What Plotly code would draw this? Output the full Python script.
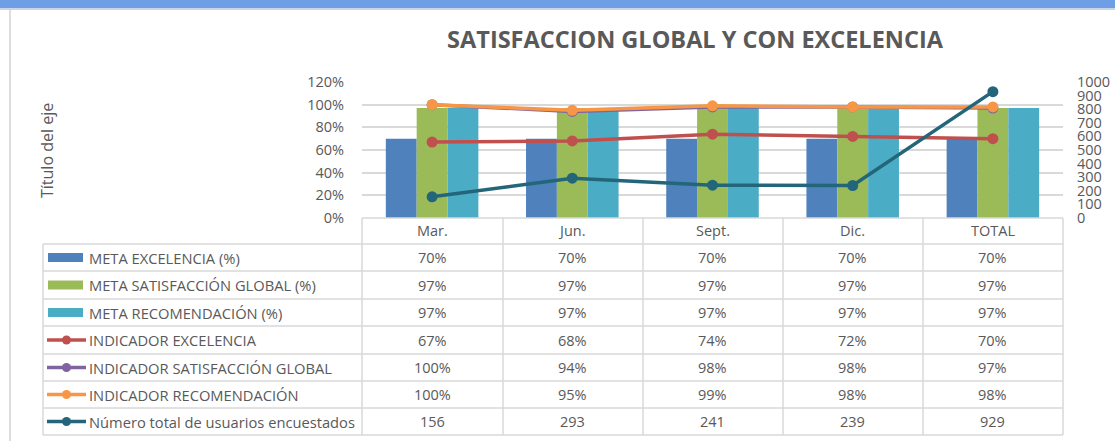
import plotly.graph_objects as go

categories = ["Mar.", "Jun.", "Sept.", "Dic.", "TOTAL"]
meta_excelencia = [0.70, 0.70, 0.70, 0.70, 0.70]
meta_satisfaccion = [0.97, 0.97, 0.97, 0.97, 0.97]
meta_recomendacion = [0.97, 0.97, 0.97, 0.97, 0.97]
ind_excelencia = [0.67, 0.68, 0.74, 0.72, 0.70]
ind_satisfaccion = [1.00, 0.94, 0.98, 0.98, 0.97]
ind_recomendacion = [1.00, 0.95, 0.99, 0.98, 0.98]
usuarios = [156, 293, 241, 239, 929]

series_names = [
    "META EXCELENCIA (%)",
    "META SATISFACCIÓN GLOBAL (%)",
    "META RECOMENDACIÓN (%)",
    "INDICADOR EXCELENCIA",
    "INDICADOR SATISFACCIÓN GLOBAL",
    "INDICADOR RECOMENDACIÓN",
    "Número total de usuarios encuestados",
]

C_BLUE = "#4F81BD"
C_GREEN = "#9BBB59"
C_CYAN = "#4BACC6"
C_RED = "#C0504D"
C_PURPLE = "#8064A2"
C_ORANGE = "#F79646"
C_TEAL = "#23667A"
GRID = "#D9D9D9"
TXT = "#595959"
FONT = "Open Sans"

W, H = 1115, 441


def px(x):
    return x / W


def py(y):
    return 1 - y / H


fig = go.Figure()
for name, vals, col in [
    (series_names[0], meta_excelencia, C_BLUE),
    (series_names[1], meta_satisfaccion, C_GREEN),
    (series_names[2], meta_recomendacion, C_CYAN),
]:
    fig.add_trace(go.Bar(x=categories, y=vals, name=name, marker=dict(color=col, line=dict(width=0))))

for name, vals, col in [
    (series_names[3], ind_excelencia, C_RED),
    (series_names[4], ind_satisfaccion, C_PURPLE),
    (series_names[5], ind_recomendacion, C_ORANGE),
]:
    fig.add_trace(go.Scatter(x=categories, y=vals, name=name, mode="lines+markers",
                             line=dict(color=col, width=3.5), marker=dict(color=col, size=11)))

fig.add_trace(go.Scatter(x=categories, y=usuarios, name=series_names[6], mode="lines+markers",
                         yaxis="y2", line=dict(color=C_TEAL, width=3.5), marker=dict(color=C_TEAL, size=11)))

x0, x1 = 362, 1063
y_top, y_bot = 82, 218

fig.update_layout(
    width=W, height=H, autosize=False,
    margin=dict(l=0, r=0, t=0, b=0, pad=0),
    paper_bgcolor="white", plot_bgcolor="white",
    showlegend=False,
    barmode="group", bargap=0.34, bargroupgap=0,
    font=dict(family=FONT, color=TXT, size=14),
    title=dict(text="<b>SATISFACCION GLOBAL Y CON EXCELENCIA</b>", x=695 / W, xanchor="center",
               y=py(40), yanchor="middle", automargin=False,
               font=dict(size=23.5, color=TXT, family=FONT)),
    xaxis=dict(domain=[px(x0), px(x1)], showticklabels=False, showgrid=False, zeroline=False,
               showline=False, fixedrange=True, automargin=False),
    yaxis=dict(domain=[py(y_bot), py(y_top)], range=[0, 1.2], dtick=0.2, tickformat=".0%",
               showgrid=True, gridcolor=GRID, gridwidth=1.5, zeroline=False, showline=False,
               ticklabelstandoff=17, tickfont=dict(size=14.5, color=TXT), fixedrange=True,
               automargin=False),
    yaxis2=dict(overlaying="y", side="right", range=[0, 1000], dtick=100, showgrid=False,
                zeroline=False, showline=False, ticklabelstandoff=13,
                tickfont=dict(size=14.5, color=TXT), fixedrange=True, automargin=False),
    hovermode=False,
)

shapes = []
# top frame band
shapes.append(dict(type="rect", xref="paper", yref="paper", x0=0, x1=1, y0=py(8), y1=1,
                   fillcolor="#6E9EE5", line=dict(width=0), layer="above"))
shapes.append(dict(type="rect", xref="paper", yref="paper", x0=0, x1=1, y0=py(10), y1=py(8),
                   fillcolor="#C9D6E8", line=dict(width=0), layer="above"))
shapes.append(dict(type="line", xref="paper", yref="paper", x0=px(10), x1=px(10), y0=0, y1=py(10),
                   line=dict(color="#DDDDDD", width=2)))

# table grid
row_lines = [244, 271, 299, 326, 354, 381, 408, 435]
col_lines = [362, 503, 643, 783, 923, 1063]
shapes.append(dict(type="line", xref="paper", yref="paper", x0=px(x0), x1=px(x1), y0=py(218), y1=py(218),
                   line=dict(color=GRID, width=1.5)))
for r in row_lines:
    shapes.append(dict(type="line", xref="paper", yref="paper", x0=px(43), x1=px(x1), y0=py(r), y1=py(r),
                       line=dict(color=GRID, width=1.5)))
for c in col_lines:
    shapes.append(dict(type="line", xref="paper", yref="paper", x0=px(c), x1=px(c), y0=py(218), y1=py(435),
                       line=dict(color=GRID, width=1.5)))
shapes.append(dict(type="line", xref="paper", yref="paper", x0=px(43), x1=px(43), y0=py(244), y1=py(435),
                   line=dict(color=GRID, width=1.5)))

row_centers = [(row_lines[i] + row_lines[i + 1]) / 2 for i in range(7)]
key_colors = [C_BLUE, C_GREEN, C_CYAN, C_RED, C_PURPLE, C_ORANGE, C_TEAL]
for i, col in enumerate(key_colors):
    yc = row_centers[i]
    if i < 3:
        shapes.append(dict(type="rect", xref="paper", yref="paper", x0=px(48), x1=px(83),
                           y0=py(yc + 4.5), y1=py(yc - 4.5), fillcolor=col, line=dict(width=0)))
    else:
        shapes.append(dict(type="line", xref="paper", yref="paper", x0=px(47), x1=px(86),
                           y0=py(yc), y1=py(yc), line=dict(color=col, width=3.5)))
        shapes.append(dict(type="circle", xref="paper", yref="paper", x0=px(62), x1=px(71),
                           y0=py(yc + 4.5), y1=py(yc - 4.5), fillcolor=col, line=dict(width=0)))

annotations = []
annotations.append(dict(text="Título del eje", xref="paper", yref="paper", x=px(47), y=py(151),
                        textangle=-90, showarrow=False, font=dict(size=16, color=TXT),
                        xanchor="center", yanchor="middle"))
for cat in categories:
    annotations.append(dict(text=cat, xref="x", yref="paper", x=cat, y=py(230), showarrow=False,
                            font=dict(size=14.5, color=TXT), xanchor="center", yanchor="middle"))

all_series = [meta_excelencia, meta_satisfaccion, meta_recomendacion,
              ind_excelencia, ind_satisfaccion, ind_recomendacion, usuarios]
for i, (name, vals) in enumerate(zip(series_names, all_series)):
    yc = row_centers[i]
    annotations.append(dict(text=name, xref="paper", yref="paper", x=px(87), y=py(yc), showarrow=False,
                            font=dict(size=14.7, color=TXT), xanchor="left", yanchor="middle"))
    for cat, v in zip(categories, vals):
        txt = str(v) if i == 6 else f"{round(v * 100)}%"
        annotations.append(dict(text=txt, xref="x", yref="paper", x=cat, y=py(yc), showarrow=False,
                                font=dict(size=14.5, color=TXT), xanchor="center", yanchor="middle"))

fig.update_layout(shapes=shapes, annotations=annotations)
fig.write_html("out.html", config={"displayModeBar": False},
               post_script="document.body.style.margin='0';document.body.style.padding='0';")
